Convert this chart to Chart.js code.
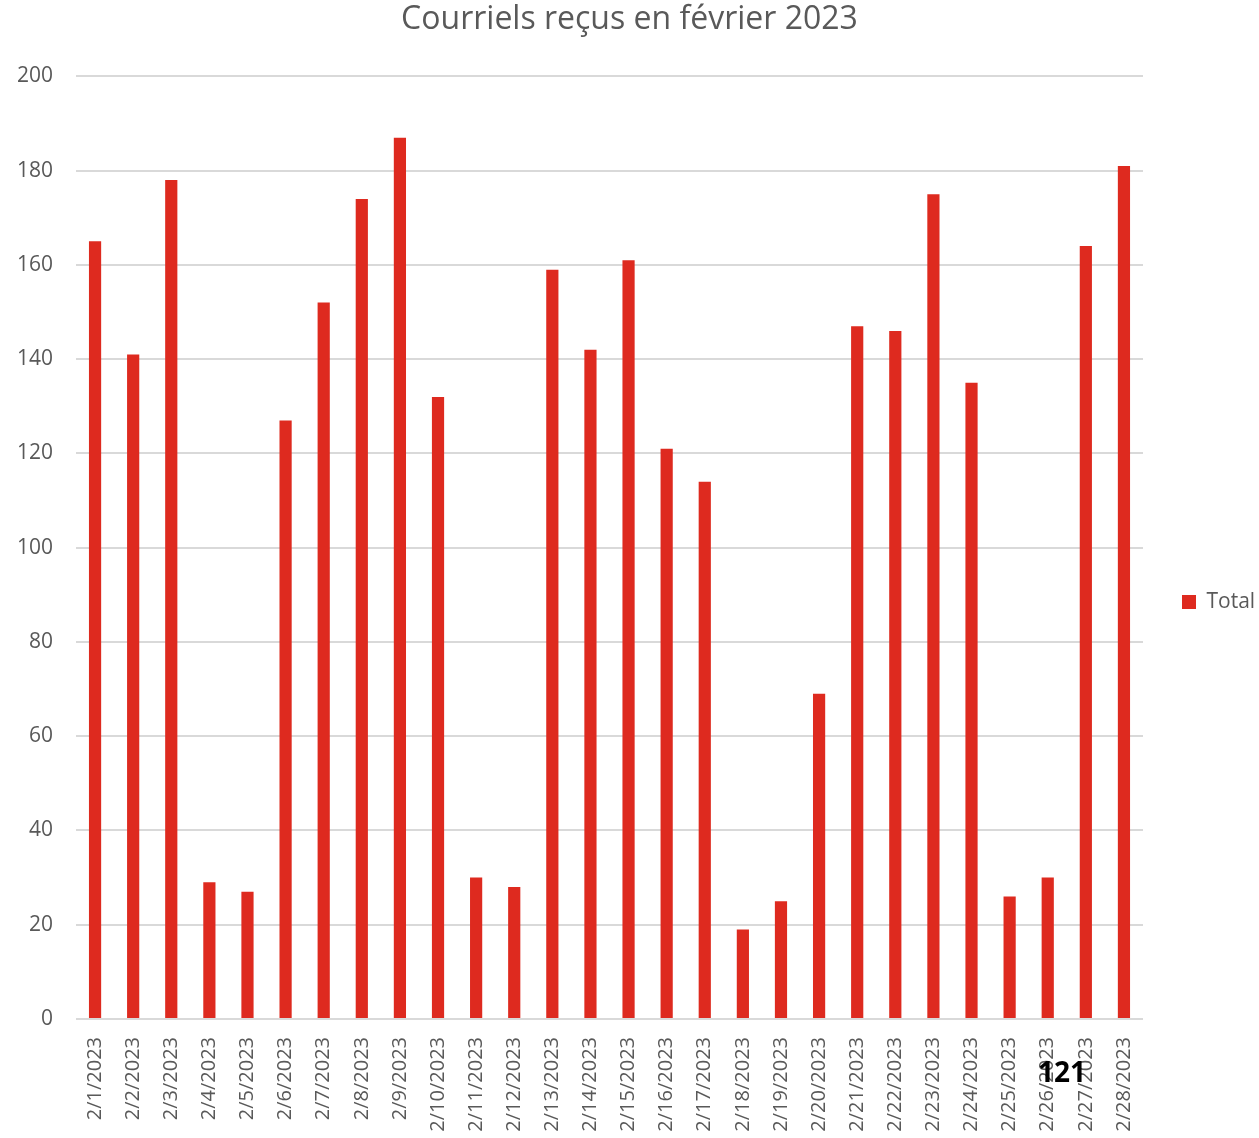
<!DOCTYPE html>
<html lang="fr">
<head>
<meta charset="utf-8">
<title>Courriels reçus en février 2023</title>
<script src="https://cdn.jsdelivr.net/npm/chart.js@4.4.1/dist/chart.umd.min.js"></script>
<style>
  html, body { margin: 0; padding: 0; background: #ffffff; overflow: hidden; }
  #wrap { width: 1259px; height: 1138px; }
</style>
</head>
<body>
<div id="wrap"><canvas id="mailChart" width="1259" height="1138"></canvas></div>
<script>
// Jours de février 2023
const days = [
    '2/1/2023', '2/2/2023', '2/3/2023', '2/4/2023', '2/5/2023', '2/6/2023', '2/7/2023',
    '2/8/2023', '2/9/2023', '2/10/2023', '2/11/2023', '2/12/2023', '2/13/2023', '2/14/2023',
    '2/15/2023', '2/16/2023', '2/17/2023', '2/18/2023', '2/19/2023', '2/20/2023', '2/21/2023',
    '2/22/2023', '2/23/2023', '2/24/2023', '2/25/2023', '2/26/2023', '2/27/2023', '2/28/2023'
];

// Nombre de courriels reçus par jour
const totals = [
    165, 141, 178, 29, 27, 127, 152,
    174, 187, 132, 30, 28, 159, 142,
    161, 121, 114, 19, 25, 69, 147,
    146, 175, 135, 26, 30, 164, 181
];

const yTicks = { min: 0, max: 200, step: 20 };

const textGray = '#595959';
const gridGray = '#d9d9d9';
const barRed = '#de2a1f';
const fontFamily = '"Open Sans", "Noto Sans", sans-serif';

// Numéro de page posé par-dessus le graphique
const pageNumber = {
    id: 'pageNumber',
    afterDraw(chart) {
        const ctx = chart.ctx;
        ctx.save();
        ctx.font = 'bold 28px ' + fontFamily;
        ctx.fillStyle = '#000000';
        ctx.textAlign = 'center';
        ctx.textBaseline = 'middle';
        ctx.fillText('121', 1062, 1074);
        ctx.restore();
    }
};

// Descend un peu la légende, au niveau du milieu de l'axe
const legendOffset = {
    id: 'legendOffset',
    afterLayout(chart) {
        const lg = chart.legend;
        if (!lg) return;
        lg.top += 33;
        lg.bottom += 33;
        lg.left -= 3;
        lg.right -= 3;
    }
};

const mailChart = new Chart(document.getElementById('mailChart'), {
    type: 'bar',
    data: {
        labels: days,
        datasets: [{
            label: 'Total',
            data: totals,
            backgroundColor: barRed,
            borderWidth: 0,
            barPercentage: 0.32,
            categoryPercentage: 1.0
        }]
    },
    options: {
        responsive: false,
        animation: false,
        layout: { padding: 0 },
        plugins: {
            title: {
                display: true,
                text: 'Courriels reçus en février 2023',
                color: textGray,
                font: { family: fontFamily, size: 32, weight: 'normal' },
                padding: { top: 1, bottom: 37 }
            },
            legend: {
                position: 'right',
                maxWidth: 116,
                labels: {
                    color: textGray,
                    font: { family: fontFamily, size: 21 },
                    boxWidth: 14,
                    boxHeight: 14,
                    padding: 42
                }
            },
            tooltip: { enabled: false }
        },
        scales: {
            x: {
                grid: { display: false },
                border: { display: false },
                ticks: {
                    color: textGray,
                    font: { family: fontFamily, size: 20 },
                    maxRotation: 90,
                    minRotation: 90,
                    autoSkip: false,
                    padding: 10
                },
                afterFit(scale) { scale.height = 119; }
            },
            y: {
                min: yTicks.min,
                max: yTicks.max,
                grid: { color: gridGray, lineWidth: 2, drawTicks: false },
                border: { display: false },
                ticks: {
                    stepSize: yTicks.step,
                    color: textGray,
                    font: { family: fontFamily, size: 21 },
                    padding: 23
                },
                afterFit(scale) { scale.width = 76; }
            }
        }
    },
    plugins: [pageNumber, legendOffset]
});
</script>
</body>
</html>
